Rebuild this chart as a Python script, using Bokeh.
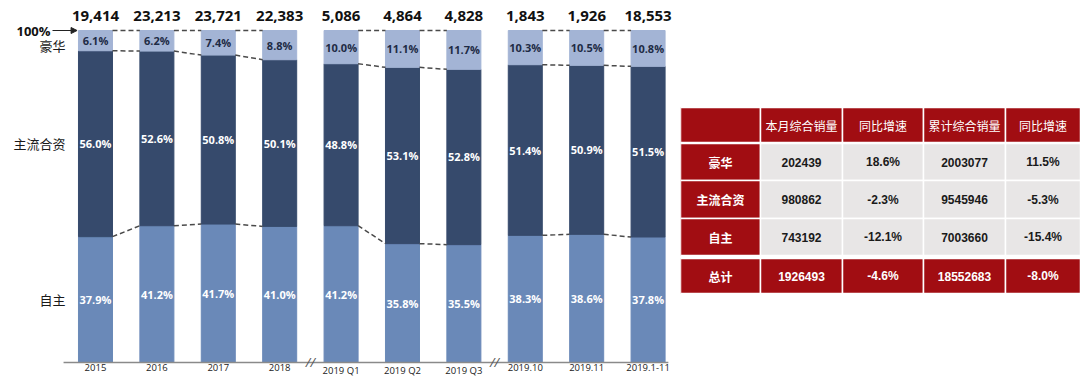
from bokeh.plotting import figure
from bokeh.layouts import row
from bokeh.models import Range1d, Arrow, NormalHead
from bokeh.core.properties import value
from bokeh.embed import file_html
from bokeh.resources import INLINE

# ---------------- data ----------------
periods = ["2015", "2016", "2017", "2018", "2019 Q1", "2019 Q2", "2019 Q3",
           "2019.10", "2019.11", "2019.1-11"]
totals = [19414, 23213, 23721, 22383, 5086, 4864, 4828, 1843, 1926, 18553]
own_pct = [37.9, 41.2, 41.7, 41.0, 41.2, 35.8, 35.5, 38.3, 38.6, 37.8]
main_pct = [56.0, 52.6, 50.8, 50.1, 48.8, 53.1, 52.8, 51.4, 50.9, 51.5]
lux_pct = [6.1, 6.2, 7.4, 8.8, 10.0, 11.1, 11.7, 10.3, 10.5, 10.8]
series_names = ["豪华", "主流合资", "自主"]
group_sizes = [4, 3, 3]

table_header = ["", "本月综合销量", "同比增速", "累计综合销量", "同比增速"]
table_rows = ["豪华", "主流合资", "自主", "总计"]
month_sales = [202439, 980862, 743192, 1926493]
month_yoy = ["18.6%", "-2.3%", "-12.1%", "-4.6%"]
ytd_sales = [2003077, 9545946, 7003660, 18552683]
ytd_yoy = ["11.5%", "-5.3%", "-15.4%", "-8.0%"]

# ---------------- styles ----------------
C_LUX = "#A3B4D5"
C_MAIN = "#364A6C"
C_OWN = "#6A89B8"
DASH = "#4a4a4a"
RED = "#A10D12"
GRAY = "#E8E6E6"
NUM_FONT = value("Open Sans")
CJK_FONT = value("Noto Sans CJK SC")
TAB_NUM_FONT = value("Liberation Sans Narrow, Liberation Sans")

n = len(periods)
xs = list(range(n))
W = 0.554

p = figure(width=680, height=378, x_range=Range1d(-1.547, 9.528),
           y_range=Range1d(-4.82, 109.04), output_backend="svg",
           toolbar_location=None, min_border=0, x_axis_location=None,
           y_axis_location=None)
p.grid.visible = False
p.outline_line_color = None

main_top = [100 - l for l in lux_pct]
p.vbar(x=xs, bottom=0, top=own_pct, width=W, color=C_OWN)
p.vbar(x=xs, bottom=own_pct, top=main_top, width=W, color=C_MAIN)
p.vbar(x=xs, bottom=main_top, top=100, width=W, color=C_LUX)

# connectors inside each group
x0s, x1s, y0s, y1s = [], [], [], []
start = 0
for g in group_sizes:
    for i in range(start, start + g - 1):
        for a, b in [(100, 100), (main_top[i], main_top[i + 1]), (own_pct[i], own_pct[i + 1])]:
            x0s.append(i + W / 2)
            x1s.append(i + 1 - W / 2)
            y0s.append(a)
            y1s.append(b)
    start += g
p.segment(x0=x0s, y0=y0s, x1=x1s, y1=y1s, line_color=DASH, line_width=1.5,
          line_dash="5 3")

# segment labels
own_mid = [o / 2 for o in own_pct]
main_mid = [(o + t) / 2 for o, t in zip(own_pct, main_top)]
lux_mid = [(t + 100) / 2 for t in main_top]
p.text(x=xs, y=own_mid, text=[f"{v:.1f}%" for v in own_pct], text_align="center",
       text_baseline="middle", text_color="white", text_font=NUM_FONT,
       text_font_size="11px", text_font_style="bold")
p.text(x=xs, y=main_mid, text=[f"{v:.1f}%" for v in main_pct], text_align="center",
       text_baseline="middle", text_color="white", text_font=NUM_FONT,
       text_font_size="11px", text_font_style="bold")
p.text(x=xs, y=lux_mid, text=[f"{v:.1f}%" for v in lux_pct], text_align="center",
       text_baseline="middle", text_color="#1E2B45", text_font=NUM_FONT,
       text_font_size="11px", text_font_style="bold")

# totals on top
p.text(x=xs, y=[100] * n, y_offset=-15, text=[f"{v:,}" for v in totals],
       text_align="center", text_baseline="middle", text_color="#111111",
       text_font=NUM_FONT, text_font_size="15px", text_font_style="bold")

# x axis line, break marks and labels
p.segment(x0=[xs[0] - 0.52], y0=[0], x1=[xs[-1] + 0.33], y1=[0],
          line_color="#8a8a8a", line_width=1.5)
breaks = []
acc = 0
for g in group_sizes[:-1]:
    acc += g
    breaks.append(acc - 0.5)
p.text(x=breaks, y=[0] * len(breaks), text=["//"] * len(breaks), text_align="center",
       text_baseline="middle", text_color="#555555", text_font=NUM_FONT,
       text_font_size="13px", text_font_style="italic")
p.text(x=xs, y=[0] * n, y_offset=2, text=periods, text_align="center",
       text_baseline="top", text_color="#222222", text_font=NUM_FONT,
       text_font_size="9.5px")

# left labels
p.text(x=[xs[0]], y=[100], x_offset=-45, text=["100%"], text_align="right",
       text_baseline="middle", text_color="#111111", text_font=NUM_FONT,
       text_font_size="13px", text_font_style="bold")
p.add_layout(Arrow(end=NormalHead(size=6, fill_color="#222222", line_color="#222222"),
                   x_start=xs[0] - 0.70, y_start=100, x_end=xs[0] - 0.30, y_end=100,
                   line_color="#222222", line_width=1.2))
p.text(x=[xs[0]] * 3, y=[lux_mid[0], main_mid[0], own_mid[0]], y_offset=[5, 0, 0],
       x_offset=-30, text=series_names, text_align="right", text_baseline="middle",
       text_color="#1a1a1a", text_font=CJK_FONT, text_font_size="13px")

# ---------------- table ----------------
t = figure(width=400, height=378, x_range=Range1d(0, 400), y_range=Range1d(378, 0),
           output_backend="svg", toolbar_location=None, min_border=0,
           x_axis_location=None, y_axis_location=None)
t.grid.visible = False
t.outline_line_color = None

col_edges = [0, 80, 162, 243, 325, 400]
row_edges = [(107, 142), (143, 180), (180, 218), (218, 255), (258, 293)]

lefts, rights, tops, bottoms, fills = [], [], [], [], []
for r, (ty, by) in enumerate(row_edges):
    for c in range(5):
        lefts.append(col_edges[c])
        rights.append(col_edges[c + 1])
        tops.append(ty)
        bottoms.append(by)
        if r == 0 or r == len(row_edges) - 1 or c == 0:
            fills.append(RED)
        else:
            fills.append(GRAY)
t.quad(left=lefts, right=rights, top=tops, bottom=bottoms, fill_color=fills,
       line_color="white", line_width=1.5)

cx = [(col_edges[c] + col_edges[c + 1]) / 2 for c in range(5)]
cy = [(a + b) / 2 for a, b in row_edges]

# header
t.text(x=cx[1:], y=[cy[0]] * 4, text=table_header[1:], text_align="center",
       text_baseline="middle", text_color="white", text_font=CJK_FONT,
       text_font_size="12px")
# row names
t.text(x=[cx[0]] * 4, y=cy[1:], text=table_rows, text_align="center",
       text_baseline="middle", text_color="white", text_font=CJK_FONT,
       text_font_size="12px", text_font_style="bold")
# values
cols = [[str(v) for v in month_sales], month_yoy, [str(v) for v in ytd_sales], ytd_yoy]
for ci, colvals in enumerate(cols):
    colors = ["#1a1a1a"] * 3 + ["white"]
    t.text(x=[cx[ci + 1]] * 4, y=cy[1:], text=colvals, text_align="center",
           text_baseline="middle", text_color=colors, text_font=TAB_NUM_FONT,
           text_font_size="12px", text_font_style="bold")

layout = row(p, t, spacing=0)
open("out.html", "w").write(file_html(layout, INLINE))
